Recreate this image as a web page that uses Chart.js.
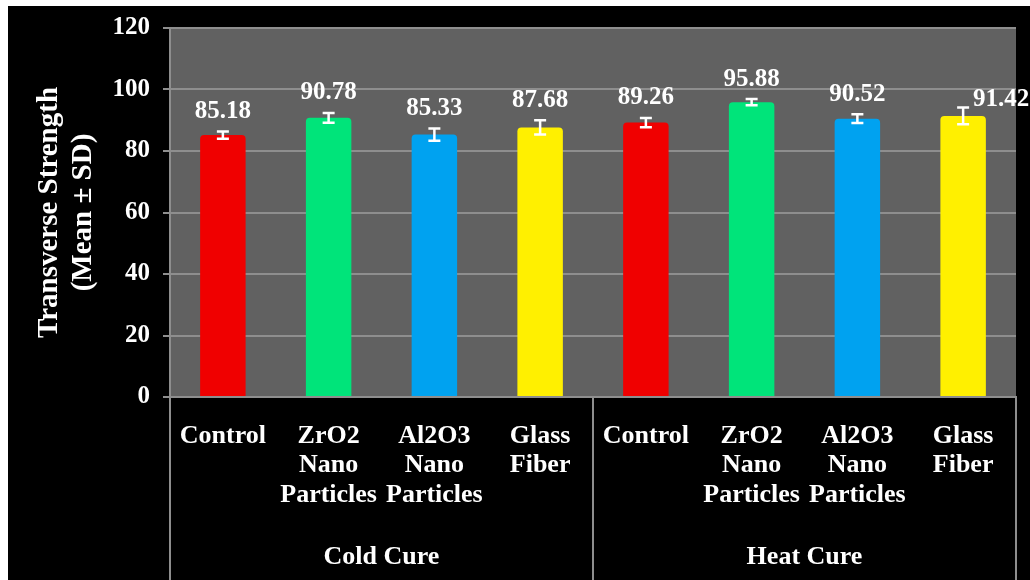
<!DOCTYPE html>
<html>
<head>
<meta charset="utf-8">
<script src="https://cdn.jsdelivr.net/npm/chart.js@4.4.1/dist/chart.umd.min.js"></script>
<style>
  html, body { margin: 0; background: #fff; }
  #wrap { position: absolute; left: 8px; top: 6px; width: 1022px; height: 574px; background: #000; }
</style>
</head>
<body>
<div id="wrap"><canvas id="chart"></canvas></div>
<script>
const categories = [
  'Control', ['ZrO2', 'Nano', 'Particles'], ['Al2O3', 'Nano', 'Particles'], ['Glass', 'Fiber'],
  'Control', ['ZrO2', 'Nano', 'Particles'], ['Al2O3', 'Nano', 'Particles'], ['Glass', 'Fiber']
];
const groups = ['Cold Cure', 'Heat Cure'];
const meanValues = [85.18, 90.78, 85.33, 87.68, 89.26, 95.88, 90.52, 91.42];
const sdValues = [1.2, 1.6, 2.0, 2.3, 1.5, 1.0, 1.4, 2.7];
const yTicks = [0, 20, 40, 60, 80, 100, 120];
const barColors = ['#f00000', '#00e47a', '#00a2f0', '#fff000', '#f00000', '#00e47a', '#00a2f0', '#fff000'];

const serif = "'Liberation Serif', 'Times New Roman', serif";
const lineGray = '#8e8e8e';

const decorations = {
  id: 'decorations',
  beforeDraw(chart) {
    const { ctx, chartArea: a } = chart;
    ctx.save();
    ctx.fillStyle = '#616161';
    ctx.fillRect(a.left, a.top, a.right - a.left, a.bottom - a.top);
    ctx.restore();
  },
  afterDatasetsDraw(chart) {
    const { ctx, scales: { x, y } } = chart;
    ctx.save();
    ctx.strokeStyle = '#ffffff';
    ctx.lineWidth = 2.5;
    ctx.fillStyle = '#ffffff';
    ctx.font = 'bold 25px ' + serif;
    ctx.textAlign = 'center';
    ctx.textBaseline = 'middle';
    meanValues.forEach((v, i) => {
      const px = x.getPixelForValue(i);
      const top = y.getPixelForValue(v + sdValues[i]);
      const bot = y.getPixelForValue(v - sdValues[i]);
      ctx.beginPath();
      ctx.moveTo(px, top); ctx.lineTo(px, bot);
      ctx.moveTo(px - 6, top); ctx.lineTo(px + 6, top);
      ctx.moveTo(px - 6, bot); ctx.lineTo(px + 6, bot);
      ctx.stroke();
      // last label sits to the right of its bar in the original
      const last = i === meanValues.length - 1;
      ctx.fillText(v.toFixed(2), px + (last ? 38 : 0), top - (last ? 8 : 20));
    });
    ctx.restore();
  },
  afterDraw(chart) {
    const { ctx, scales: { x, y } } = chart;
    const mid = (x.getPixelForValue(3) + x.getPixelForValue(4)) / 2;
    ctx.save();
    ctx.strokeStyle = lineGray;
    ctx.lineWidth = 2;
    [x.left, mid, x.right].forEach(px => {
      ctx.beginPath();
      ctx.moveTo(px, y.bottom);
      ctx.lineTo(px, chart.height);
      ctx.stroke();
    });
    ctx.fillStyle = '#ffffff';
    ctx.font = 'bold 26px ' + serif;
    ctx.textAlign = 'center';
    ctx.textBaseline = 'middle';
    groups.forEach((g, k) => {
      const cx = (x.getPixelForValue(k * 4) + x.getPixelForValue(k * 4 + 3)) / 2;
      ctx.fillText(g, cx, chart.height - 23);
    });
    ctx.restore();
  }
};

new Chart(document.getElementById('chart'), {
  type: 'bar',
  data: {
    labels: categories,
    datasets: [{
      data: meanValues,
      backgroundColor: barColors,
      borderWidth: 0,
      borderRadius: { topLeft: 4, topRight: 4 },
      barPercentage: 0.43,
      categoryPercentage: 1
    }]
  },
  options: {
    responsive: true,
    maintainAspectRatio: false,
    animation: false,
    layout: { padding: { top: 22, right: 14, left: 0, bottom: 0 } },
    plugins: { legend: { display: false }, tooltip: { enabled: false } },
    scales: {
      x: {
        afterFit: s => { s.height = 183; },
        grid: { display: false },
        border: { display: true, color: lineGray, width: 2 },
        ticks: {
          color: '#ffffff',
          font: { family: serif, size: 26, weight: 'bold', lineHeight: 1.12 },
          padding: 17,
          maxRotation: 0,
          autoSkip: false
        }
      },
      y: {
        min: 0,
        max: 120,
        afterFit: s => { s.width = 162; s.paddingTop = 0; s.paddingBottom = 0; },
        afterBuildTicks: s => { s.ticks = yTicks.map(v => ({ value: v })); },
        grid: { color: lineGray, lineWidth: 2, tickLength: 7 },
        border: { display: true, color: lineGray, width: 2 },
        ticks: {
          color: '#ffffff',
          font: { family: serif, size: 25, weight: 'bold' },
          padding: 13
        },
        title: {
          display: true,
          text: ['Transverse Strength', '(Mean ± SD)'],
          color: '#ffffff',
          font: { family: serif, size: 29, weight: 'bold', lineHeight: 1.18 },
          padding: { top: 24, bottom: 0 }
        }
      }
    }
  },
  plugins: [decorations]
});
</script>
</body>
</html>
